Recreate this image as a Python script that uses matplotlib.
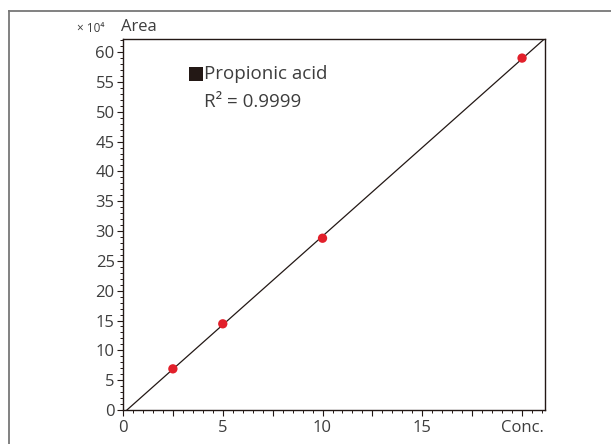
import matplotlib
matplotlib.use("Agg")
import matplotlib.pyplot as plt
import numpy as np
from matplotlib.ticker import MultipleLocator, FixedLocator
from matplotlib.patches import Rectangle
from matplotlib.lines import Line2D

conc = [2.5, 5, 10, 20]
area = [6.9, 14.45, 28.8, 59.0]  # x 10^4
x_ticks = [0, 5, 10, 15, 20]
x_ticklabels = ["0", "5", "10", "15", "Conc."]
y_ticks = [0, 5, 10, 15, 20, 25, 30, 35, 40, 45, 50, 55, 60]
legend_name = "Propionic acid"
r2_text = "R\u00b2 = 0.9999"

plt.rcParams['font.family'] = ['Open Sans', 'DejaVu Sans']
txt = '#3d3d3d'

W, H = 611, 444
fig = plt.figure(figsize=(W/100, H/100), dpi=100)
ax = fig.add_axes([123/W, 1-410/H, (545-123)/W, (410-39)/H])

xmax, ymax = 21.15, 62.2
slope, icpt = np.polyfit(conc, area, 1)
xl = np.array([(0 - icpt)/slope, xmax])
ax.plot(xl, slope*xl + icpt, color='#231815', lw=0.9, zorder=2)
ax.scatter(conc, area, s=45, color='#e2202b', zorder=3, edgecolors='none')

ax.set_xlim(0, xmax)
ax.set_ylim(0, ymax)
ax.xaxis.set_major_locator(MultipleLocator(2.5))
ax.xaxis.set_minor_locator(MultipleLocator(0.5))
ax.set_xticklabels([])
ax.yaxis.set_major_locator(FixedLocator(y_ticks))
ax.yaxis.set_minor_locator(MultipleLocator(1))
ax.set_yticklabels([str(v) for v in y_ticks])
ax.tick_params(which='major', direction='out', length=4, width=0.8, color='#231815',
               labelsize=12, labelcolor=txt, pad=2)
ax.tick_params(which='minor', direction='out', length=2, width=0.7, color='#231815')
for xv, lab in zip(x_ticks, x_ticklabels):
    ax.annotate(lab, xy=(xv, 0), xycoords='data', xytext=(0, -7), textcoords='offset points',
                ha='center', va='top', fontsize=12, color=txt)
for s in ax.spines.values():
    s.set_color('#231815')
    s.set_linewidth(1.0)

fig.text(104/W, 1-28/H, "\u00d7 10\u2074", fontsize=8.5, color=txt, ha='right', va='center')
fig.text(121/W, 1-27/H, "Area", fontsize=12, color=txt, ha='left', va='center')

fig.patches.append(Rectangle((189/W, 1-81/H), 14/W, 14/H, transform=fig.transFigure,
                             facecolor='#231815', edgecolor='none'))
fig.text(204/W, 1-74/H, legend_name, fontsize=13.5, color=txt, ha='left', va='center')
fig.text(204/W, 1-102/H, r2_text, fontsize=13.5, color=txt, ha='left', va='center')

fig.lines.append(Line2D([9/W, 9/W], [0, 1-11/H], transform=fig.transFigure, color='#777777', lw=1.3))
fig.lines.append(Line2D([9/W, 1], [1-11/H, 1-11/H], transform=fig.transFigure, color='#777777', lw=1.3))

fig.savefig("out.png", dpi=100)
